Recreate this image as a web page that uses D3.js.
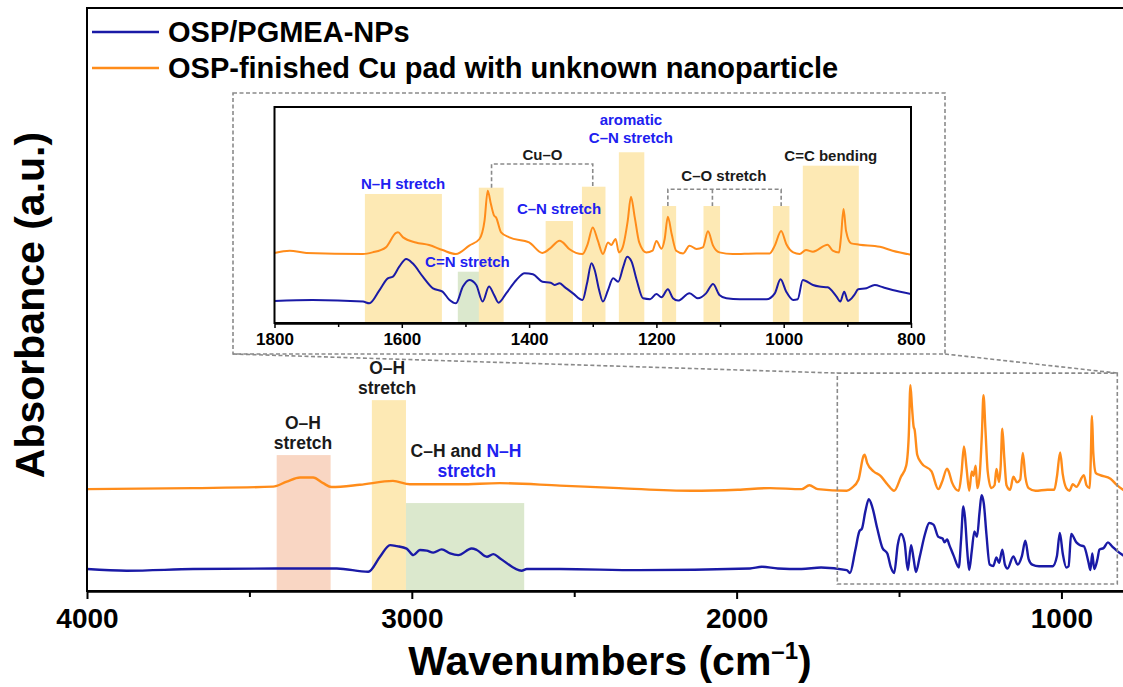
<!DOCTYPE html>
<html>
<head>
<meta charset="utf-8">
<script src="https://cdn.jsdelivr.net/npm/d3@7"></script>
<style>
    body { margin: 0; background: #fff; }
    svg text { font-family: "Liberation Sans", Arial, sans-serif; font-weight: bold; }
</style>
</head>
<body>
<div id="chart"></div>
<script>
// FTIR spectra (wavenumber in cm-1, absorbance in a.u.)
const blueWave = [4000, 3878, 3673, 3416, 3231, 3134, 3098, 3067, 3046, 3016, 2995, 2975, 2954, 2934, 2908, 2882,
    2857, 2816, 2800, 2769, 2749, 2728, 2662, 2646, 2544, 2300, 1959, 1922, 1873, 1800, 1740, 1661, 1651, 1635,
    1622, 1614, 1604, 1593, 1583, 1567, 1551, 1536, 1525, 1515, 1504, 1494, 1483, 1473, 1463, 1455, 1448, 1436,
    1420, 1407, 1394, 1379, 1366, 1360, 1352, 1345, 1331, 1316, 1309, 1302, 1297, 1290, 1284, 1276, 1268, 1260,
    1252, 1246, 1239, 1231, 1221, 1210, 1200, 1192, 1182, 1174, 1166, 1148, 1135, 1122, 1111, 1101, 1090, 1069,
    1027, 1014, 1005, 996, 985, 978, 970, 954, 944, 931, 917, 911, 905, 899, 889, 883, 870, 857, 844, 829, 800];
const blueAbs = [0, -0.008, 0, 0.003, 0.003, -0.013, 0.06, 0.117, 0.112, 0.1, 0.068, 0.093, 0.09, 0.08, 0.096, 0.076,
    0.068, 0.1, 0.093, 0.06, 0.073, 0.052, -0.008, 0, 0, -0.005, 0.003, 0.011, 0.003, 0, 0.008, -0.005, -0.019, 0.089,
    0.184, 0.198, 0.279, 0.341, 0.306, 0.198, 0.103, 0.076, 0.008, -0.019, 0.117, 0.171, 0.13, -0.005, 0.117, 0.049, -0.014, 0.062,
    0.171, 0.225, 0.217, 0.157, 0.149, 0.13, 0.144, 0.117, 0.062, 0.008, 0.144, 0.306, 0.252, 0.089, -0.005, 0.089, 0.184, 0.157,
    0.279, 0.36, 0.32, 0.171, 0.022, 0.015, 0.057, 0.03, 0.095, 0.022, 0.003, 0.062, 0.022, 0.062, 0.138, 0.049, 0.022, 0.014,
    0.014, 0.062, 0.176, 0.076, 0.008, 0.014, 0.171, 0.13, 0.117, 0.111, 0.035, -0.005, 0.076, 0, 0.049, 0.095, 0.103, 0.13, 0.111, 0.089, 0.057];

const orangeWave = [4000, 3674, 3427, 3385, 3344, 3304, 3273, 3247, 3160, 3058, 3006, 2852, 2729, 2544, 2362, 2141,
    1996, 1897, 1800, 1776, 1750, 1661, 1646, 1625, 1609, 1606, 1598, 1578, 1557, 1536, 1515, 1494, 1478, 1470,
    1465, 1460, 1455, 1452, 1444, 1431, 1400, 1379, 1368, 1352, 1347, 1337, 1316, 1308, 1300, 1292, 1284, 1276,
    1271, 1264, 1259, 1253, 1245, 1240, 1234, 1227, 1216, 1206, 1200, 1192, 1187, 1182, 1176, 1169, 1158, 1148,
    1137, 1127, 1119, 1111, 1101, 1080, 1043, 1022, 1014, 1004, 996, 985, 975, 965, 954, 931, 923, 913, 910, 906,
    902, 894, 881, 849, 829, 800];
const orangeAbs = [0, 0.005, 0.012, 0.037, 0.057, 0.057, 0.029, 0.01, 0.021, 0.04, 0.024, 0.024, 0.029, 0.017, 0.005, -0.008,
    -0.003, 0.005, 0, 0.019, 0, -0.008, 0.005, 0.046, 0.163, 0.168, 0.127, 0.086, 0.065, 0.024, -0.008, 0.06, 0.114, 0.263,
    0.507, 0.398, 0.304, 0.29, 0.168, 0.127, 0.086, 0, 0.033, 0.1, 0.086, 0.033, -0.008, 0.073, 0.208, 0.1, -0.008, 0.086,
    0.065, 0.114, 0.005, 0.046, 0.263, 0.458, 0.29, 0.086, 0.005, 0.019, 0.098, 0.035, 0.114, 0.295, 0.154, 0.019, -0.003, 0.06,
    0.033, 0.046, 0.176, 0.06, 0.005, -0.008, -0.003, -0.003, 0.06, 0.179, 0.073, 0.005, -0.008, 0.024, 0.011, 0.068, 0.019, 0.005, 0.127, 0.357,
    0.179, 0.078, 0.068, 0.051, 0.019, -0.014];
const orangeOffset = 0.39;  // vertical stacking of the second spectrum

const seriesNames = ["OSP/PGMEA-NPs", "OSP-finished Cu pad with unknown nanoparticle"];
const mainTicks = [4000, 3000, 2000, 1000];
const mainMinorTicks = [3500, 2500, 1500];
const insetTicks = [1800, 1600, 1400, 1200, 1000, 800];
const insetMinorTicks = [1700, 1500, 1300, 1100, 900];

// assignment bands: [from, to, top (a.u.), kind]
const mainBands = [[3416, 3250, 0.556, "oh"], [3123, 3018, 0.824, "y"], [3018, 2654, 0.322, "g"]];
const insetBands = [[1658, 1537, 0.87, "y"], [1512, 1473, 0.238, "g"], [1479, 1440, 0.921, "y"], [1374, 1331, 0.65, "y"],
    [1317, 1280, 0.929, "y"], [1259, 1219, 1.209, "y"], [1191, 1169, 0.772, "y"], [1126, 1100, 0.772, "y"],
    [1017, 991, 0.772, "y"], [970, 882, 1.1, "y"]];

const C = {
    blue: "#1a1aa6", orange: "#ff8c1a", text: "#1a1a1a", textBlue: "#2020f0", dash: "#8a8a8a",
    y: "#fde9b4", g: "#dbe8cd", oh: "#f9d6c3"
};

const W = 1123, H = 687;
const svg = d3.select("#chart").append("svg").attr("width", W).attr("height", H);

// main scales
const x = d3.scaleLinear().domain([4000, 800]).range([87, 1126.4]);
const y = d3.scaleLinear().domain([-0.107, 2.737]).range([591, 8]);
// inset scales
const ix = d3.scaleLinear().domain([1800, 800]).range([274.5, 911]);
const iy = d3.scaleLinear().domain([-0.179, 1.577]).range([323, 107]);

const blueData = d3.zip(blueWave, blueAbs);
const orangeData = d3.zip(orangeWave, orangeAbs);

const defs = svg.append("defs");
defs.append("clipPath").attr("id", "clipMain").append("rect")
    .attr("x", 87).attr("y", 8).attr("width", 1126.4 - 87).attr("height", 583);
defs.append("clipPath").attr("id", "clipInset").append("rect")
    .attr("x", 274.5).attr("y", 107).attr("width", 911 - 274.5).attr("height", 216);

function makeLine(sx, sy, off) {
    return d3.line().x(d => sx(d[0])).y(d => sy(d[1] + off)).curve(d3.curveMonotoneX);
}

// ---- main plot ----
const gMain = svg.append("g");
gMain.selectAll("rect.band").data(mainBands).enter().append("rect")
    .attr("x", d => x(d[0])).attr("width", d => x(d[1]) - x(d[0]))
    .attr("y", d => y(d[2])).attr("height", d => y.range()[0] - y(d[2]))
    .attr("fill", d => C[d[3]]);

const gLines = gMain.append("g").attr("clip-path", "url(#clipMain)");
gLines.append("path").datum(blueData).attr("d", makeLine(x, y, 0))
    .attr("fill", "none").attr("stroke", C.blue).attr("stroke-width", 2.4).attr("stroke-linejoin", "round");
gLines.append("path").datum(orangeData).attr("d", makeLine(x, y, orangeOffset))
    .attr("fill", "none").attr("stroke", C.orange).attr("stroke-width", 2.4).attr("stroke-linejoin", "round");

// frame
gMain.append("rect").attr("x", 87).attr("y", 8).attr("width", 1126.4 - 87).attr("height", 583)
    .attr("fill", "none").attr("stroke", "#000").attr("stroke-width", 2);

const xAxis = gMain.append("g").attr("transform", "translate(0,591)")
    .call(d3.axisBottom(x).tickValues(mainTicks).tickFormat(d3.format("d")).tickSize(8).tickPadding(9).tickSizeOuter(0));
xAxis.append("g").call(d3.axisBottom(x).tickValues(mainMinorTicks).tickFormat("").tickSize(6).tickSizeOuter(0));
xAxis.selectAll("path.domain").attr("stroke-width", 2);
xAxis.selectAll("line").attr("stroke-width", 2);
xAxis.selectAll("text").attr("font-size", 28).attr("fill", "#000");

// axis titles
const xt = svg.append("text").attr("x", 610).attr("y", 675).attr("text-anchor", "middle")
    .attr("font-size", 41).attr("fill", "#000").text("Wavenumbers (cm");
xt.append("tspan").attr("font-size", 24).attr("dy", -16).text("–1");
xt.append("tspan").attr("dy", 16).text(")");
svg.append("text").attr("transform", "translate(43.5,305) rotate(-90)").attr("text-anchor", "middle")
    .attr("font-size", 41).attr("fill", "#000").text("Absorbance (a.u.)");

// legend
const legend = svg.append("g").selectAll("g").data(seriesNames).enter().append("g")
    .attr("transform", (d, i) => "translate(0," + (32 + i * 36) + ")");
legend.append("line").attr("x1", 92).attr("x2", 159)
    .attr("stroke", (d, i) => i === 0 ? C.blue : C.orange).attr("stroke-width", 2.5);
legend.append("text").attr("x", 168).attr("dy", "0.36em").attr("font-size", 29).attr("fill", "#000").text(d => d);

// annotations placed in data coordinates (wavenumber, a.u.)
function label(g, sx, sy, px, py, parts, size) {
    const t = g.append("text").attr("x", sx(px)).attr("y", sy(py)).attr("text-anchor", "middle").attr("font-size", size);
    parts.forEach(p => t.append("tspan").attr("fill", p[1] ? C.textBlue : C.text).text(p[0]));
}
label(gMain, x, y, 3335, 0.685, [["O–H", 0]], 17.5);
label(gMain, x, y, 3335, 0.588, [["stretch", 0]], 17.5);
label(gMain, x, y, 3076, 0.953, [["O–H", 0]], 17.5);
label(gMain, x, y, 3076, 0.856, [["stretch", 0]], 17.5);
label(gMain, x, y, 2833, 0.549, [["C–H and ", 0], ["N–H", 1]], 17.5);
label(gMain, x, y, 2831, 0.451, [["stretch", 1]], 17.5);

// zoom window + connectors
const dashed = g => g.attr("fill", "none").attr("stroke", C.dash).attr("stroke-width", 1.6).attr("stroke-dasharray", "4,2.5");
const zx0 = x(1690), zx1 = x(828), zy0 = y(0.956), zy1 = y(-0.073);
svg.append("rect").attr("x", zx0).attr("y", zy0).attr("width", zx1 - zx0).attr("height", zy1 - zy0).call(dashed);
const box = {x0: 233, y0: 93, x1: 945, y1: 354};
svg.append("rect").attr("x", box.x0).attr("y", box.y0).attr("width", box.x1 - box.x0).attr("height", box.y1 - box.y0)
    .attr("fill", "#fff").call(dashed);
svg.append("line").attr("x1", box.x0).attr("y1", box.y1).attr("x2", zx0).attr("y2", zy0).call(dashed);
svg.append("line").attr("x1", box.x1).attr("y1", box.y1).attr("x2", zx1).attr("y2", zy0).call(dashed);

// ---- inset ----
const gIn = svg.append("g");
gIn.selectAll("rect.band").data(insetBands).enter().append("rect")
    .attr("x", d => ix(d[0])).attr("width", d => ix(d[1]) - ix(d[0]))
    .attr("y", d => iy(d[2])).attr("height", d => iy.range()[0] - iy(d[2]))
    .attr("fill", d => C[d[3]]);

const gInLines = gIn.append("g").attr("clip-path", "url(#clipInset)");
gInLines.append("path").datum(blueData.filter(d => d[0] <= 1800)).attr("d", makeLine(ix, iy, 0))
    .attr("fill", "none").attr("stroke", C.blue).attr("stroke-width", 2).attr("stroke-linejoin", "round");
gInLines.append("path").datum(orangeData.filter(d => d[0] <= 1800)).attr("d", makeLine(ix, iy, orangeOffset))
    .attr("fill", "none").attr("stroke", C.orange).attr("stroke-width", 2).attr("stroke-linejoin", "round");

gIn.append("rect").attr("x", 274.5).attr("y", 107).attr("width", 911 - 274.5).attr("height", 216)
    .attr("fill", "none").attr("stroke", "#000").attr("stroke-width", 2);
const ixAxis = gIn.append("g").attr("transform", "translate(0,323)")
    .call(d3.axisBottom(ix).tickValues(insetTicks).tickFormat(d3.format("d")).tickSize(5).tickPadding(5).tickSizeOuter(0));
ixAxis.append("g").call(d3.axisBottom(ix).tickValues(insetMinorTicks).tickFormat("").tickSize(4).tickSizeOuter(0));
ixAxis.selectAll("path.domain").attr("stroke-width", 2);
ixAxis.selectAll("line").attr("stroke-width", 1.5);
ixAxis.selectAll("text").attr("font-size", 17).attr("fill", "#000");

// brackets
const bracket = (pts) => gIn.append("path").attr("d", d3.line()(pts)).call(dashed);
bracket([[ix(1459), iy(0.921)], [ix(1459), iy(1.114)], [ix(1300), iy(1.114)], [ix(1300), iy(0.929)]]);
bracket([[ix(1182), iy(0.772)], [ix(1182), iy(0.908)], [ix(1004), iy(0.908)], [ix(1004), iy(0.772)]]);
bracket([[ix(1112), iy(0.908)], [ix(1112), iy(0.772)]]);

label(gIn, ix, iy, 1598, 0.911, [["N–H stretch", 1]], 15);
label(gIn, ix, iy, 1497, 0.279, [["C=N stretch", 1]], 15);
label(gIn, ix, iy, 1379, 1.146, [["Cu–O", 0]], 15);
label(gIn, ix, iy, 1353, 0.705, [["C–N stretch", 1]], 15);
label(gIn, ix, iy, 1240, 1.431, [["aromatic", 1]], 15);
label(gIn, ix, iy, 1240, 1.287, [["C–N stretch", 1]], 15);
label(gIn, ix, iy, 1094, 0.978, [["C–O stretch", 0]], 15);
label(gIn, ix, iy, 926, 1.138, [["C=C bending", 0]], 15);
</script>
</body>
</html>
